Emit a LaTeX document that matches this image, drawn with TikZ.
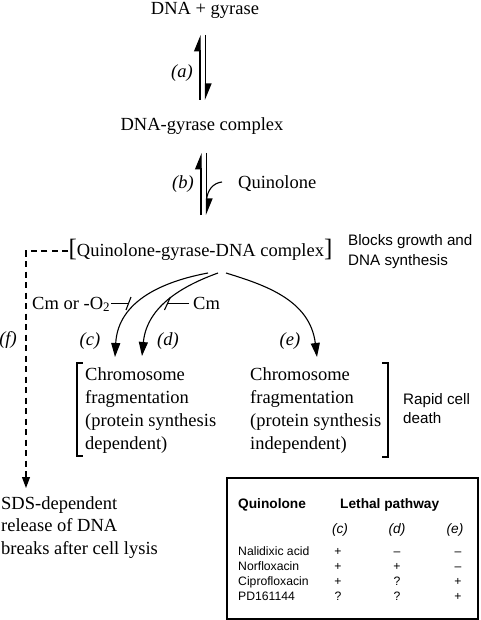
\documentclass[tikz,border=0pt]{standalone}
\usepackage{fontspec}
\setmainfont{Liberation Serif}
\setsansfont{Liberation Sans}
\usetikzlibrary{arrows.meta}
\begin{document}
\begin{tikzpicture}[x=1pt,y=-1pt,
  serif/.style={font=\fontsize{18.5}{23}\selectfont, inner sep=0pt},
  sanslab/.style={font=\sffamily\fontsize{15.2}{19.5}\selectfont, inner sep=0pt, align=left},
  tab/.style={font=\sffamily\fontsize{12.2}{15}\selectfont, inner sep=0pt},
  tabhead/.style={font=\sffamily\bfseries\fontsize{13.7}{16}\selectfont, inner sep=0pt},
  harp/.style={line width=1.2pt, -{Triangle[left,length=15pt,width=12pt]}},
  flow/.style={line width=1.1pt, -{Triangle[length=14pt,width=9pt]}},
  inhib/.style={line width=1.1pt},
  dashline/.style={line width=1.1pt, dash pattern=on 6pt off 4.5pt, -{Triangle[length=11pt,width=8pt]}},
  bigbr/.style={line width=2.2pt},
  brserif/.style={line width=1.3pt}
]
\useasboundingbox (0,0) rectangle (480,620);

% texts
\node[serif, anchor=base] (top) at (205,15) {DNA + gyrase};
\node[serif, anchor=base] (la) at (182,78) {\textit{(a)}};
\node[serif, anchor=base] (mid) at (202,131) {DNA-gyrase complex};
\node[serif, anchor=base] (lb) at (183,189) {\textit{(b)}};
\node[serif, anchor=base west] (quin) at (238,189) {Quinolone};
\node[serif, anchor=base] (cx) at (200.5,256) {{\fontsize{25}{25}\selectfont[}Quinolone-gyrase-DNA complex{\fontsize{25}{25}\selectfont]}};
\node[sanslab, anchor=base west] (blocks) at (348,265) {Blocks growth and\\DNA synthesis};
\node[serif, anchor=base west] (cmo) at (32,309) {Cm or -O\textsubscript{2}};
\node[serif, anchor=base west] (cm) at (193,309) {Cm};
\node[serif, anchor=base] (lc) at (90,345) {\textit{(c)}};
\node[serif, anchor=base] (ld) at (168,345) {\textit{(d)}};
\node[serif, anchor=base] (le) at (290,345) {\textit{(e)}};
\node[serif, anchor=base] (lf) at (8,344) {\textit{(f)}};
\node[serif, anchor=base west, align=left] (chl) at (85,449) {Chromosome\\fragmentation\\(protein synthesis\\dependent)};
\node[serif, anchor=base west, align=left] (chr) at (250,449) {Chromosome\\fragmentation\\(protein synthesis\\independent)};
\node[sanslab, anchor=base west] (rapid) at (403,423.5) {Rapid cell\\death};
\node[serif, anchor=base west, align=left, font=\fontsize{18.5}{22.5}\selectfont] (sds) at (1,554) {SDS-dependent\\release of DNA\\breaks after cell lysis};

% equilibrium arrows
\coordinate (a1) at (200,100); \coordinate (a2) at (200,35);
\coordinate (a3) at (205.5,35); \coordinate (a4) at (205.5,100);
\draw[harp] (a1) -- (a2);
\draw[harp] (a3) -- (a4);
\coordinate (b1) at (201,215); \coordinate (b2) at (201,153);
\coordinate (b3) at (206.5,153); \coordinate (b4) at (206.5,215);
\draw[harp] (b1) -- (b2);
\draw[harp] (b3) -- (b4);
\coordinate (q1) at (222,182); \coordinate (q2) at (206.5,200);
\draw[line width=1.1pt] (q1) .. controls (213,183) and (207.5,190) .. (q2);

% pathways
\coordinate (sc) at (208,273); \coordinate (sd) at (218,273); \coordinate (se) at (226,273);
\coordinate (tc) at (115,357); \coordinate (td) at (142,356); \coordinate (te) at (317,357);
\draw[flow] (sc) .. controls (165,281) and (118,300) .. (tc);
\draw[flow] (sd) .. controls (185,285) and (147,305) .. (td);
\draw[flow] (se) .. controls (265,285) and (310,300) .. (te);

% inhibitors
\coordinate (i1) at (128.5,303.5);
\draw[inhib] (cmo.east |- i1) ++(1,0) -- (i1);
\draw[inhib] (126,310) -- (131,297);
\coordinate (i2) at (167.5,303.5);
\draw[inhib] (cm.west |- i2) ++(-4,0) -- (i2);
\draw[inhib] (164.5,310) -- (170.5,297);

% dashed pathway f
\coordinate (f1) at (26,251); \coordinate (f2) at (26,488);
\draw[dashline] (cx.west |- f1) -- (f1) -- (f2);

% big brackets
\draw[bigbr] (77,362.5) -- (77,456.5);
\draw[brserif] (76,363) -- (83,363);
\draw[brserif] (76,456) -- (83,456);
\draw[bigbr] (388,362.5) -- (388,457.5);
\draw[brserif] (389,363) -- (382,363);
\draw[brserif] (389,457) -- (382,457);

% table
\draw[line width=1.1pt] (227,478) rectangle (478,619);
\node[tabhead, anchor=base west] (th1) at (238,508) {Quinolone};
\node[tabhead, anchor=base west] (th2) at (340,508) {Lethal pathway};
\node[tab, anchor=base, font=\sffamily\itshape\fontsize{13.7}{16}\selectfont] (hc) at (340,533) {(c)};
\node[tab, anchor=base, font=\sffamily\itshape\fontsize{13.7}{16}\selectfont] (hd) at (397,533) {(d)};
\node[tab, anchor=base, font=\sffamily\itshape\fontsize{13.7}{16}\selectfont] (he) at (455,533) {(e)};
\node[tab, anchor=base west] (r1) at (238,555.4) {Nalidixic acid};
\node[tab, anchor=base west] (r2) at (238,570.4) {Norfloxacin};
\node[tab, anchor=base west] (r3) at (238,585.4) {Ciprofloxacin};
\node[tab, anchor=base west] (r4) at (238,600.4) {PD161144};
\node[tab, anchor=base] (m11) at (338,555.4) {+};
\node[tab, anchor=base] (m12) at (397,555.4) {–};
\node[tab, anchor=base] (m13) at (458,555.4) {–};
\node[tab, anchor=base] (m21) at (338,570.4) {+};
\node[tab, anchor=base] (m22) at (397,570.4) {+};
\node[tab, anchor=base] (m23) at (458,570.4) {–};
\node[tab, anchor=base] (m31) at (338,585.4) {+};
\node[tab, anchor=base] (m32) at (397,585.4) {?};
\node[tab, anchor=base] (m33) at (458,585.4) {+};
\node[tab, anchor=base] (m41) at (338,600.4) {?};
\node[tab, anchor=base] (m42) at (397,600.4) {?};
\node[tab, anchor=base] (m43) at (458,600.4) {+};
\end{tikzpicture}
\end{document}
